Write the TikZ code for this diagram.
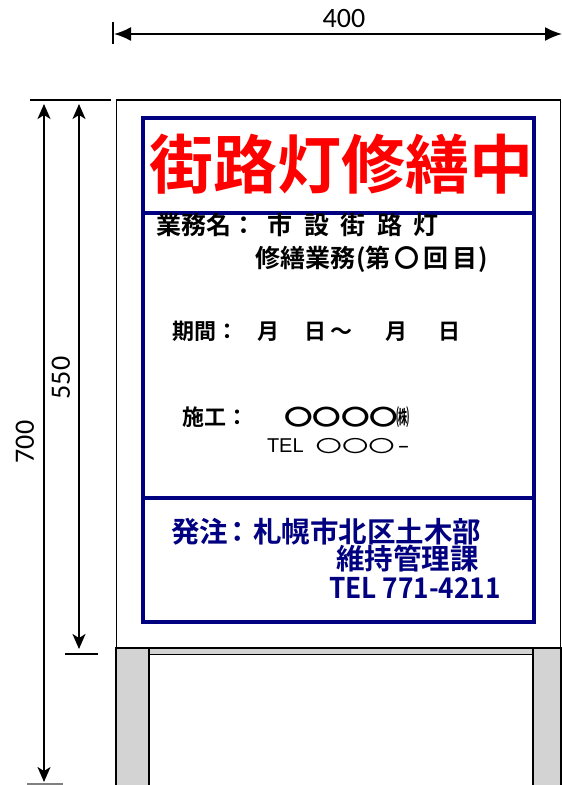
\documentclass[tikz,border=0pt]{standalone}
\usepackage{fontspec}
\usepackage{graphicx}
\usetikzlibrary{arrows.meta}
\setmainfont{Liberation Sans}
\newfontfamily\dimfont{Carlito}
\newfontfamily\jpr{Noto Sans CJK JP}
\newfontfamily\jpb{Noto Sans CJK JP Bold}
\definecolor{navy}{RGB}{0,0,128}
\definecolor{signred}{RGB}{255,0,0}
\definecolor{postgray}{RGB}{211,211,211}
\tikzset{
  txt/.style={inner sep=0pt, outer sep=0pt, anchor=west},
  dimtxt/.style={inner sep=0pt, font=\dimfont\fontsize{28}{28}\selectfont},
  dimline/.style={line width=1.8pt, black},
  hdim/.style={dimline, {Latex[length=17pt,width=14pt]}-{Latex[length=17pt,width=14pt]}},
  vdim/.style={dimline, {Stealth[length=15pt,width=13pt,inset=4pt]}-{Stealth[length=15pt,width=13pt,inset=4pt]}},
  tickline/.style={line width=1.8pt, black},
  postbox/.style={fill=postgray, draw=black, line width=1.8pt},
  frameline/.style={draw=navy, line width=3.3pt},
}
\begin{document}
\begin{tikzpicture}[x=1pt,y=-1pt]
\useasboundingbox[fill=white] (0,0) rectangle (562,785);

% posts and crossbar
\path[postbox] (116,648) rectangle (149,792);
\path[postbox] (533,648) rectangle (561,792);
\path[postbox] (149,648) rectangle (533,654.5);

% board
\node[draw=black, fill=white, line width=1.9pt, inner sep=0pt, outer sep=0pt,
      minimum width=444pt, minimum height=548pt] (board) at (338.5,374) {};

% blue frame
\node[frameline, inner sep=0pt, outer sep=0pt,
      minimum width=391pt, minimum height=504pt] (frame) at (338.5,370) {};
\coordinate (d1l) at (143,213); \coordinate (d1r) at (534,213);
\coordinate (d2l) at (143,498); \coordinate (d2r) at (534,498);
\draw[navy, line width=3.3pt] (d1l) -- (d1r);
\draw[navy, line width=3.3pt] (d2l) -- (d2r);

% title
\node[inner sep=0pt, text=signred, font=\jpb\fontsize{64}{64}\selectfont] (title) at (341,164) {街路灯修繕中};

% work name
\node[txt, font=\jpb\fontsize{25}{25}\selectfont] (gyomu) at (156,225)
  {業務名：\kern11.5pt 市\kern11.5pt 設\kern11.5pt 街\kern11.5pt 路\kern11.5pt 灯};
\node[txt, font=\jpb\fontsize{25}{25}\selectfont] (gyomu2) at (255,259)
  {修繕業務\kern1pt(第\kern4pt 〇\kern4pt 回\kern4pt 目\kern1pt)};

% period
\node[txt, font=\jpb\fontsize{22}{22}\selectfont] (kikan) at (172,331)
  {期間：\kern20pt 月\kern25pt 日\kern4pt ～\kern33pt 月\kern31pt 日};

% contractor
\node[txt, font=\jpb\fontsize{22}{22}\selectfont] (sekou) at (182,417)
  {施工：\kern36pt \scalebox{1.3}[1]{〇〇〇〇}\kern-2pt\scalebox{0.6}[1]{㈱}};
\node[txt, font=\fontsize{20}{20}\selectfont] (tel1) at (267,446)
  {TEL\kern12pt{\jpr\fontsize{17}{17}\selectfont\scalebox{1.55}[1]{〇〇〇}}\kern3pt\scalebox{1.8}[1]{-}};

% orderer
\node[txt, text=navy, font=\jpb\fontsize{28.5}{28.5}\selectfont] (hacchu) at (171,532)
  {発注\kern-5pt：\kern2pt 札幌市北区土木部};
\node[txt, text=navy, font=\jpb\fontsize{28.5}{28.5}\selectfont] (ka) at (336,559)
  {維持管理課};
\node[txt, text=navy, font=\jpb\fontsize{28.5}{28.5}\selectfont] (tel2) at (329,588)
  {\scalebox{0.92}[1]{TEL 771-4211}};

% horizontal dimension 400
\coordinate (ht0) at (113,22); \coordinate (ht1) at (113,44);
\draw[tickline] (ht0) -- (ht1);
\coordinate (h0) at (114,34); \coordinate (h1) at (562,34);
\draw[hdim] (h0) -- (h1);
\node[dimtxt] (t400) at (344,19) {400};

% vertical dimensions
\coordinate (tt0) at (30,100); \coordinate (tt1) at (111,100);
\draw[tickline] (tt0) -- (tt1);
\coordinate (t5a) at (65,654); \coordinate (t5b) at (98,654);
\draw[tickline] (t5a) -- (t5b);
\coordinate (t7a) at (27,784.3); \coordinate (t7b) at (63,784.3);
\draw[line width=1.8pt, gray] (t7a) -- (t7b);

\coordinate (v7a) at (44,104); \coordinate (v7b) at (44,782);
\draw[vdim] (v7a) -- (v7b);
\coordinate (v5a) at (79,104); \coordinate (v5b) at (79,649);
\draw[vdim] (v5a) -- (v5b);

\node[dimtxt, rotate=90] (t550) at (61,378) {550};
\node[dimtxt, rotate=90] (t700) at (25,442) {700};
\end{tikzpicture}
\end{document}
